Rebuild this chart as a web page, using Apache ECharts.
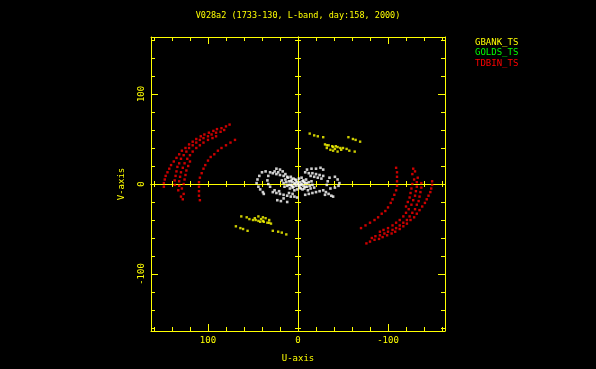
<!DOCTYPE html>
<html>
<head>
<meta charset="utf-8">
<script src="https://cdn.jsdelivr.net/npm/echarts@6/dist/echarts.min.js"></script>
<style>
html, body { margin: 0; padding: 0; background: #000; }
#uvChart { width: 596px; height: 369px; }
</style>
</head>
<body>
<div id="uvChart"></div>
<script>
// u,v points (u in the reversed horizontal axis)
const tdbinLeft = [
  [149,-3],[149,1],[148,5],[147,9],[145,13],[143,17],[141,21],[138,25],[135,29],[132,33],[129,37],[125,40],
  [121,44],[117,47],[113,50],[108,53],[104,55],[99,57],[94,59],[90,61],[85,62],[80,64],[76,66],
  [137,-1],[137,4],[136,9],[135,14],[134,19],[132,23],[130,28],[127,32],[124,36],[121,40],[117,43],[113,46],
  [109,49],[105,51],[100,53],[96,55],[91,57],[86,58],[82,60],
  [133,-7],[132,-2],[132,3],[131,8],[130,13],[128,18],[126,23],[123,28],[120,32],[117,36],[113,40],[109,43],
  [105,46],[100,49],[95,51],[91,53],
  [130,-14],[128,-17],[127,-11],[129,-5],[127,0],[126,5],[125,10],[124,15],[122,20],[120,25],
  [109,-18],[110,-13],[110,-8],[110,-3],[110,2],[109,7],[107,12],[105,17],[103,21],[100,26],[97,30],[93,33],
  [89,37],[85,40],[80,43],[75,46],[70,49]
];
const tdbinRight = [
  [-149,3],[-149,-1],[-148,-5],[-147,-9],[-145,-13],[-143,-17],[-141,-21],[-138,-25],[-135,-29],[-132,-33],[-129,-37],[-125,-40],
  [-121,-44],[-117,-47],[-113,-50],[-108,-53],[-104,-55],[-99,-57],[-94,-59],[-90,-61],[-85,-62],[-80,-64],[-76,-66],
  [-137,1],[-137,-4],[-136,-9],[-135,-14],[-134,-19],[-132,-23],[-130,-28],[-127,-32],[-124,-36],[-121,-40],[-117,-43],[-113,-46],
  [-109,-49],[-105,-51],[-100,-53],[-96,-55],[-91,-57],[-86,-58],[-82,-60],
  [-133,7],[-132,2],[-132,-3],[-131,-8],[-130,-13],[-128,-18],[-126,-23],[-123,-28],[-120,-32],[-117,-36],[-113,-40],[-109,-43],
  [-105,-46],[-100,-49],[-95,-51],[-91,-53],
  [-130,14],[-128,17],[-127,11],[-129,5],[-127,0],[-126,-5],[-125,-10],[-124,-15],[-122,-20],[-120,-25],
  [-109,18],[-110,13],[-110,8],[-110,3],[-110,-2],[-109,-7],[-107,-12],[-105,-17],[-103,-21],[-100,-26],[-97,-30],[-93,-33],
  [-89,-37],[-85,-40],[-80,-43],[-75,-46],[-70,-49]
];
const gbankUpper = [
  [-13,56],[-18,54],[-22,53],[-28,52],[-30,44],[-32,43],[-34,43],[-38,42],[-39,41],[-42,42],[-44,41],[-47,40],
  [-50,40],[-54,39],[-56,52],[-61,50],[-64,49],[-69,47],[-36,38],[-39,37],[-44,36],[-57,37],[-63,36],[-32,40],
  [-41,39],[-48,38]
];
const gbankLower = [
  [13,-56],[18,-54],[22,-53],[28,-52],[30,-44],[32,-43],[34,-43],[38,-42],[39,-41],[42,-42],[44,-41],[47,-40],
  [50,-40],[54,-39],[56,-52],[61,-50],[64,-49],[69,-47],[36,-38],[39,-37],[44,-36],[57,-37],[63,-36],[32,-40],
  [41,-39],[48,-38]
];
const goldsPts = [];
const shortPts = [
  [0,0],[3,1],[-3,-1],[6,2],[-6,-2],[8,-1],[-8,1],[2,4],[-2,-4],[5,-3],[-5,3],[10,3],[-10,-3],[12,-2],[-12,2],
  [1,-6],[-1,6],[7,5],[-7,-5],[14,5],[-14,-5],[4,-7],[-4,7],[9,-5],[-9,5],[16,1],[-16,-1],[11,7],[-11,-7],
  [1,2],[-1,-2],[4,0],[-4,0],[2,-2],[-2,2],[6,-4],[-6,4],[3,5],[-3,-5],[8,3],[-8,-3],[10,-1],[-10,1],
  [13,2],[-13,-2],[7,-2],[-7,2],[5,6],[-5,-6],[18,4],[-18,-4],[15,-3],[-15,3],
  [28,12],[24,11],[20,10],[16,9],[12,8],[8,8],[20,16],[24,17],[17,14],[22,13],[26,14],[14,11],
  [28,-9],[24,-10],[20,-11],[16,-12],[12,-13],[8,-14],[4,-14],[1,-15],[23,-18],[19,-19],[12,-20],[16,-16],
  [26,-7],[21,-8],[10,-10],[6,-11],
  [40,13],[43,9],[45,5],[46,1],[44,-3],[42,-6],[39,-9],[31,13],[33,9],[34,4],[33,0],[31,-3],[36,14],[38,-11],
  [-28,9],[-24,10],[-20,11],[-16,12],[-12,12],[-8,13],[-10,16],[-15,17],[-20,17],[-25,18],[-28,16],
  [-22,7],[-18,8],[-26,6],[-14,9],
  [-28,-7],[-31,-9],[-34,-11],[-37,-13],[-39,-14],[-24,-8],[-20,-9],[-16,-10],[-12,-11],[-8,-12],[-30,-12],
  [-41,8],[-44,5],[-46,1],[-45,-2],[-41,-4],[-35,7],[-33,3],[-32,-1],[-36,-5]
];
const minorTicks = [-160,-140,-120,-100,-80,-60,-40,-20,0,20,40,60,80,100,120,140,160];
const majorTicks = [-100, 0, 100];
const axisMax = 163.3;

const YEL = '#ffff00';
const FONT = 'DejaVu Sans Mono';

function axis(dim, pos, o) {
  const a = {
    type: 'value',
    position: pos,
    min: -axisMax,
    max: axisMax,
    inverse: dim === 'x',
    splitLine: { show: false },
    axisLine: { show: o.line !== false, onZero: !!o.zero, lineStyle: { color: YEL, width: 1 } },
    axisTick: { show: true, inside: o.inside !== false, length: o.len, customValues: o.ticks, lineStyle: { color: YEL, width: 1 } },
    axisLabel: { show: false },
    axisPointer: { show: false }
  };
  if (o.labels) {
    a.axisLabel = {
      show: true, customValues: majorTicks, color: YEL, fontFamily: FONT, fontSize: 9,
      margin: 5, rotate: dim === 'y' ? 90 : 0
    };
    a.name = dim === 'x' ? 'U-axis' : 'V-axis';
    a.nameLocation = 'middle';
    a.nameGap = dim === 'x' ? 23 : 25;
    a.nameTextStyle = { color: YEL, fontFamily: FONT, fontSize: 9 };
  }
  return a;
}

const chart = echarts.init(document.getElementById('uvChart'));
chart.setOption({
  animation: false,
  backgroundColor: '#000',
  title: {
    text: 'V028a2 (1733-130, L-band, day:158, 2000)',
    left: 'center',
    top: 6,
    textStyle: { color: YEL, fontFamily: FONT, fontSize: 8.5, fontWeight: 'normal' }
  },
  legend: {
    orient: 'vertical',
    left: 465,
    top: 32,
    icon: 'none',
    itemWidth: 0,
    itemHeight: 0,
    itemGap: 0,
    selectedMode: false,
    textStyle: { fontFamily: FONT, fontSize: 9, lineHeight: 10.5 },
    data: [
      { name: 'GBANK_TS', textStyle: { color: '#ffff00' } },
      { name: 'GOLDS_TS', textStyle: { color: '#00ff00' } },
      { name: 'TDBIN_TS', textStyle: { color: '#ff0000' } }
    ]
  },
  grid: { left: 151, right: 151, top: 37, bottom: 38, containLabel: false },
  xAxis: [
    axis('x', 'bottom', { len: 4, ticks: minorTicks, labels: true }),
    axis('x', 'bottom', { len: 7, ticks: majorTicks, line: false }),
    axis('x', 'top', { len: 4, ticks: minorTicks }),
    axis('x', 'top', { len: 7, ticks: majorTicks, line: false }),
    axis('x', 'bottom', { len: 3, ticks: minorTicks, zero: true }),
    axis('x', 'bottom', { len: 3, ticks: minorTicks, zero: true, inside: false })
  ],
  yAxis: [
    axis('y', 'left', { len: 4, ticks: minorTicks, labels: true }),
    axis('y', 'left', { len: 7, ticks: majorTicks, line: false }),
    axis('y', 'right', { len: 4, ticks: minorTicks }),
    axis('y', 'right', { len: 7, ticks: majorTicks, line: false }),
    axis('y', 'left', { len: 3, ticks: minorTicks, zero: true }),
    axis('y', 'left', { len: 3, ticks: minorTicks, zero: true, inside: false })
  ],
  series: [
    { name: 'TDBIN_TS', type: 'scatter', silent: true, symbol: 'rect', symbolSize: [2.4, 2.4],
      itemStyle: { color: '#ff0000' }, data: tdbinLeft.concat(tdbinRight) },
    { name: 'GOLDS_TS', type: 'scatter', silent: true, symbol: 'rect', symbolSize: [2.4, 2.4],
      itemStyle: { color: '#00ff00' }, data: goldsPts },
    { name: 'GBANK_TS', type: 'scatter', silent: true, symbol: 'rect', symbolSize: [2.4, 2.4],
      itemStyle: { color: '#ffff00' }, data: gbankUpper.concat(gbankLower) },
    { name: 'short', type: 'scatter', silent: true, symbol: 'rect', symbolSize: [2.6, 2.6],
      itemStyle: { color: '#ffffff' }, data: shortPts }
  ]
});
</script>
</body>
</html>
